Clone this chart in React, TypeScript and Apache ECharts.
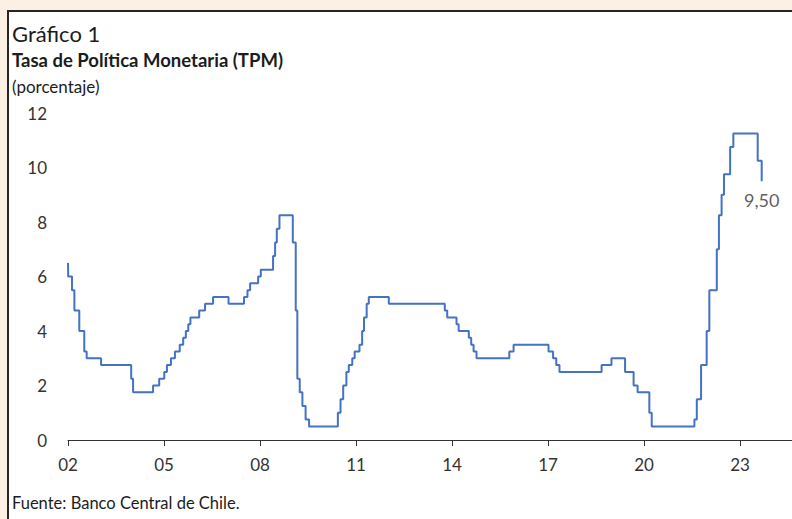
import React, { useEffect, useRef } from "react";
import * as echarts from "echarts";

// Policy rate change dates and the rate that applies from each date (percent)
const changeDates = [
  "2002-01-01", "2002-01-03", "2002-02-16", "2002-03-13", "2002-05-08", "2002-07-04", "2002-08-01",
  "2003-01-13", "2003-12-22", "2004-01-13", "2004-08-28", "2004-11-07",
  "2005-01-04", "2005-02-04", "2005-03-19", "2005-05-04", "2005-06-28", "2005-08-07", "2005-09-07",
  "2005-10-04", "2005-10-28", "2006-02-07", "2006-04-13", "2006-07-13", "2007-01-07", "2007-07-01",
  "2007-08-10", "2007-09-10", "2007-12-10", "2008-01-10", "2008-05-28", "2008-06-21", "2008-07-10",
  "2008-08-10", "2009-01-10", "2009-02-13", "2009-03-01", "2009-03-28", "2009-04-28", "2009-06-04",
  "2009-07-13", "2010-06-07", "2010-07-07", "2010-08-07", "2010-09-13", "2010-10-10", "2010-11-19",
  "2010-12-16", "2011-02-10", "2011-03-10", "2011-04-01", "2011-05-01", "2011-05-25", "2012-01-10",
  "2013-10-10", "2013-11-07", "2014-02-22", "2014-03-16", "2014-07-10", "2014-08-07", "2014-09-04",
  "2014-10-07", "2015-10-16", "2015-12-04", "2017-01-07", "2017-02-28", "2017-04-04", "2017-05-10",
  "2018-09-04", "2018-12-25", "2019-05-28", "2019-09-04", "2019-10-19", "2020-03-01", "2020-03-28",
  "2021-07-28", "2021-08-25", "2021-10-13", "2021-12-16", "2022-01-16", "2022-04-10", "2022-05-04",
  "2022-06-04", "2022-07-01", "2022-09-10", "2022-10-16", "2023-07-20", "2023-09-05",
];
const rates = [
  6.5, 6.0, 5.5, 4.75, 4.0, 3.25, 3.0,
  2.75, 2.25, 1.75, 2.0, 2.25,
  2.5, 2.75, 3.0, 3.25, 3.5, 3.75, 4.0,
  4.25, 4.5, 4.75, 5.0, 5.25, 5.0, 5.25,
  5.5, 5.75, 6.0, 6.25, 6.75, 7.25, 7.75,
  8.25, 7.25, 4.75, 2.25, 1.75, 1.25, 0.75,
  0.5, 1.0, 1.5, 2.0, 2.5, 2.75, 3.0,
  3.25, 3.5, 4.0, 4.5, 5.0, 5.25, 5.0,
  4.75, 4.5, 4.25, 4.0, 3.75, 3.5, 3.25,
  3.0, 3.25, 3.5, 3.25, 3.0, 2.75, 2.5,
  2.75, 3.0, 2.5, 2.0, 1.75, 1.0, 0.5,
  0.75, 1.5, 2.75, 4.0, 5.5, 7.0, 8.25,
  9.0, 9.75, 10.75, 11.25, 10.25, 9.5,
];

const START_YEAR = 2002;
const TICK_STEP_MONTHS = 36;
const X_MAX_MONTHS = 276;
const Y_MIN = 0;
const Y_MAX = 12;
const Y_STEP = 2;

const TITLE = "Gráfico 1";
const SUBTITLE = "Tasa de Política Monetaria (TPM)";
const UNIT = "(porcentaje)";
const SOURCE = "Fuente: Banco Central de Chile.";

const FONT = "Lato, 'Noto Sans', sans-serif";
const TEXT_COLOR = "#1c1c1c";
const AXIS_TEXT = "#333333";
const LINE_COLOR = "#4472C4";

function monthIndex(d: string): number {
  const [y, m, day] = d.split("-").map(Number);
  return (y - START_YEAR) * 12 + (m - 1) + (day - 1) / 30;
}

export default function App() {
  const ref = useRef<HTMLDivElement>(null);

  useEffect(() => {
    document.body.style.margin = "0";
    const chart = echarts.init(ref.current!, null, { renderer: "svg" });
    const points = changeDates.map((d, i) => [monthIndex(d), rates[i]]);
    const last = points[points.length - 1];

    chart.setOption({
      animation: false,
      textStyle: { fontFamily: FONT },
      grid: { left: 68, right: -12, top: 113, bottom: 79, outerBoundsMode: "none", containLabel: false },
      xAxis: {
        type: "value",
        min: 0,
        max: X_MAX_MONTHS,
        interval: TICK_STEP_MONTHS,
        axisLine: { show: true, onZero: false, lineStyle: { color: "#333333", width: 1 } },
        axisTick: { show: true, length: 6, lineStyle: { color: "#333333", width: 1 } },
        splitLine: { show: false },
        axisLabel: {
          margin: 16,
          fontSize: 17,
          color: AXIS_TEXT,
          fontFamily: FONT,
          formatter: (v: number) =>
            v % TICK_STEP_MONTHS === 0
              ? String((START_YEAR + v / 12) % 100).padStart(2, "0")
              : "",
        },
      },
      yAxis: {
        type: "value",
        min: Y_MIN,
        max: Y_MAX,
        interval: Y_STEP,
        axisLine: { show: false },
        axisTick: { show: false },
        splitLine: { show: false },
        axisLabel: { margin: 21, fontSize: 17, color: AXIS_TEXT, fontFamily: FONT },
      },
      graphic: [
        {
          type: "text",
          x: 12,
          y: 33,
          style: { text: TITLE, fontSize: 22, fontFamily: FONT, fill: TEXT_COLOR, verticalAlign: "middle" },
        },
        {
          type: "text",
          x: 12,
          y: 60,
          style: { text: SUBTITLE, fontSize: 18.5, fontWeight: "bold", fontFamily: FONT, fill: TEXT_COLOR, verticalAlign: "middle" },
        },
        {
          type: "text",
          x: 12,
          y: 86,
          style: { text: UNIT, fontSize: 17, fontFamily: FONT, fill: TEXT_COLOR, verticalAlign: "middle" },
        },
        {
          type: "text",
          x: 12,
          y: 503,
          style: { text: SOURCE, fontSize: 16.5, fontFamily: FONT, fill: TEXT_COLOR, verticalAlign: "middle" },
        },
      ],
      series: [
        {
          type: "line",
          step: "end",
          data: points,
          showSymbol: false,
          symbol: "none",
          lineStyle: { color: LINE_COLOR, width: 2 },
          z: 3,
        },
        {
          type: "scatter",
          data: [last],
          symbolSize: 1,
          itemStyle: { color: "rgba(0,0,0,0)" },
          label: {
            show: true,
            position: "bottom",
            distance: 9,
            fontSize: 18,
            color: AXIS_TEXT,
            fontFamily: FONT,
            formatter: (p: any) => p.value[1].toFixed(2).replace(".", ","),
          },
          z: 4,
        },
      ],
    });

    return () => chart.dispose();
  }, []);

  return (
    <div
      style={{
        position: "fixed",
        left: 0,
        top: 0,
        width: 792,
        height: 519,
        background: "#FCEFE3",
        overflow: "hidden",
      }}
    >
      <div
        style={{
          position: "absolute",
          left: 7,
          top: 10,
          width: 820,
          height: 540,
          background: "#ffffff",
          border: "2px solid #262626",
          boxSizing: "border-box",
        }}
      />
      <div ref={ref} style={{ position: "absolute", left: 0, top: 0, width: 792, height: 519 }} />
    </div>
  );
}
